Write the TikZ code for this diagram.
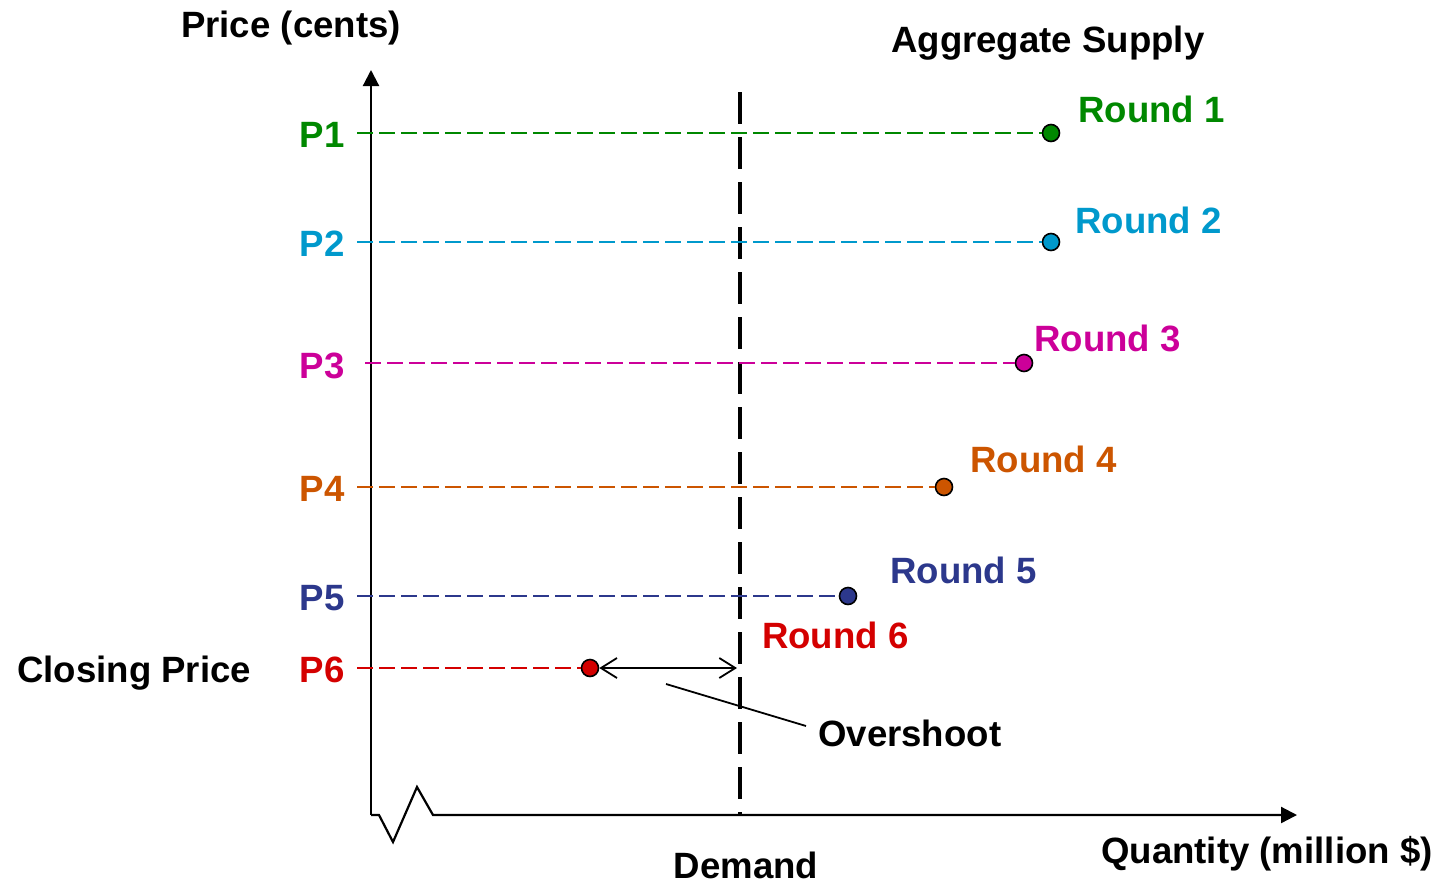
\documentclass[tikz,border=0pt]{standalone}
\usepackage{fontspec}
\setmainfont{Liberation Sans}
\usetikzlibrary{arrows.meta}
\definecolor{cgreen}{RGB}{0,136,0}
\definecolor{ccyan}{RGB}{0,153,204}
\definecolor{cmag}{RGB}{204,0,153}
\definecolor{corange}{RGB}{204,85,0}
\definecolor{cnavy}{RGB}{44,56,140}
\definecolor{cred}{RGB}{212,0,0}
\tikzset{
  lbl/.style={font=\fontsize{36.6}{40}\selectfont\bfseries, inner sep=0pt},
  pline/.style={dash pattern=on 16pt off 6pt, line width=1.8pt},
  pdot/.style={circle, draw=black, line width=1.6pt, minimum size=17pt, inner sep=0pt},
  axis/.style={line width=2.2pt},
}
\begin{document}
\begin{tikzpicture}[x=1pt,y=-1pt]
\useasboundingbox (0,0) rectangle (1442,884);
% axes
\coordinate (ytip) at (371,70);
\coordinate (o) at (371,815);
\coordinate (xtip) at (1297,815);
\draw[axis,-{Triangle[length=16pt,width=16pt]}] (o) -- (ytip);
\draw[axis,line join=miter,-{Triangle[length=16pt,width=16pt]}] (o) -- (379,815) -- (393,842) -- (417,787) -- (433,815) -- (xtip);
% demand line
\coordinate (dtop) at (740,92);
\coordinate (dbot) at (740,815);
\draw[line width=4pt, dash pattern=on 32pt off 13pt] (dtop) -- (dbot);
% dots
\node[pdot, fill=cgreen] (d1) at (1051,133) {};
\node[pdot, fill=ccyan] (d2) at (1051,242) {};
\node[pdot, fill=cmag] (d3) at (1024,363) {};
\node[pdot, fill=corange] (d4) at (944,487) {};
\node[pdot, fill=cnavy] (d5) at (848,596) {};
\node[pdot, fill=cred] (d6) at (590,668) {};
% line starts
\coordinate (s1) at (357,133);
\coordinate (s2) at (357,242);
\coordinate (s3) at (365,363);
\coordinate (s4) at (357,487);
\coordinate (s5) at (357,596);
\coordinate (s6) at (357,668);
\draw[pline, cgreen] (s1) -- (d1.west);
\draw[pline, ccyan] (s2) -- (d2.west);
\draw[pline, cmag] (s3) -- (d3.west);
\draw[pline, corange] (s4) -- (d4.west);
\draw[pline, cnavy] (s5) -- (d5.west);
\draw[pline, cred] (s6) -- (d6.west);
% P labels
\node[lbl, text=cgreen] (p1) at (322,135) {P1};
\node[lbl, text=ccyan] (p2) at (322,244) {P2};
\node[lbl, text=cmag] (p3) at (322,366) {P3};
\node[lbl, text=corange] (p4) at (322,489) {P4};
\node[lbl, text=cnavy] (p5) at (322,598) {P5};
\node[lbl, text=cred] (p6) at (322,670) {P6};
% round labels
\node[lbl, text=cgreen, anchor=west] (r1) at (1078,109) {Round 1};
\node[lbl, text=ccyan, anchor=west] (r2) at (1075,220) {Round 2};
\node[lbl, text=cmag, anchor=west] (r3) at (1034,338) {Round 3};
\node[lbl, text=corange, anchor=west] (r4) at (970,459) {Round 4};
\node[lbl, text=cnavy, anchor=west] (r5) at (890,570) {Round 5};
\node[lbl, text=cred, anchor=west] (r6) at (762,635) {Round 6};
% black labels
\node[lbl] (price) at (291,28) {Price (cents)};
\node[lbl, anchor=west] (agg) at (891,43) {Aggregate Supply};
\node[lbl, anchor=west] (closing) at (17,673) {Closing Price};
\node[lbl, anchor=west] (over) at (818,733) {Overshoot};
\node[lbl] (demand) at (746,865) {Demand};
\node[lbl, anchor=west] (qty) at (1101,854) {Quantity (million \$)};
% overshoot
\coordinate (ea) at (737,668);
\draw[line width=1.8pt, {Straight Barb[length=16pt,width=20pt,line width=1.8pt]}-{Straight Barb[length=16pt,width=20pt,line width=1.8pt]}] (d6.east) -- (ea);
\coordinate (oa) at (666,684);
\coordinate (ob) at (806,726);
\draw[line width=1.8pt] (oa) -- (ob);
\end{tikzpicture}
\end{document}
